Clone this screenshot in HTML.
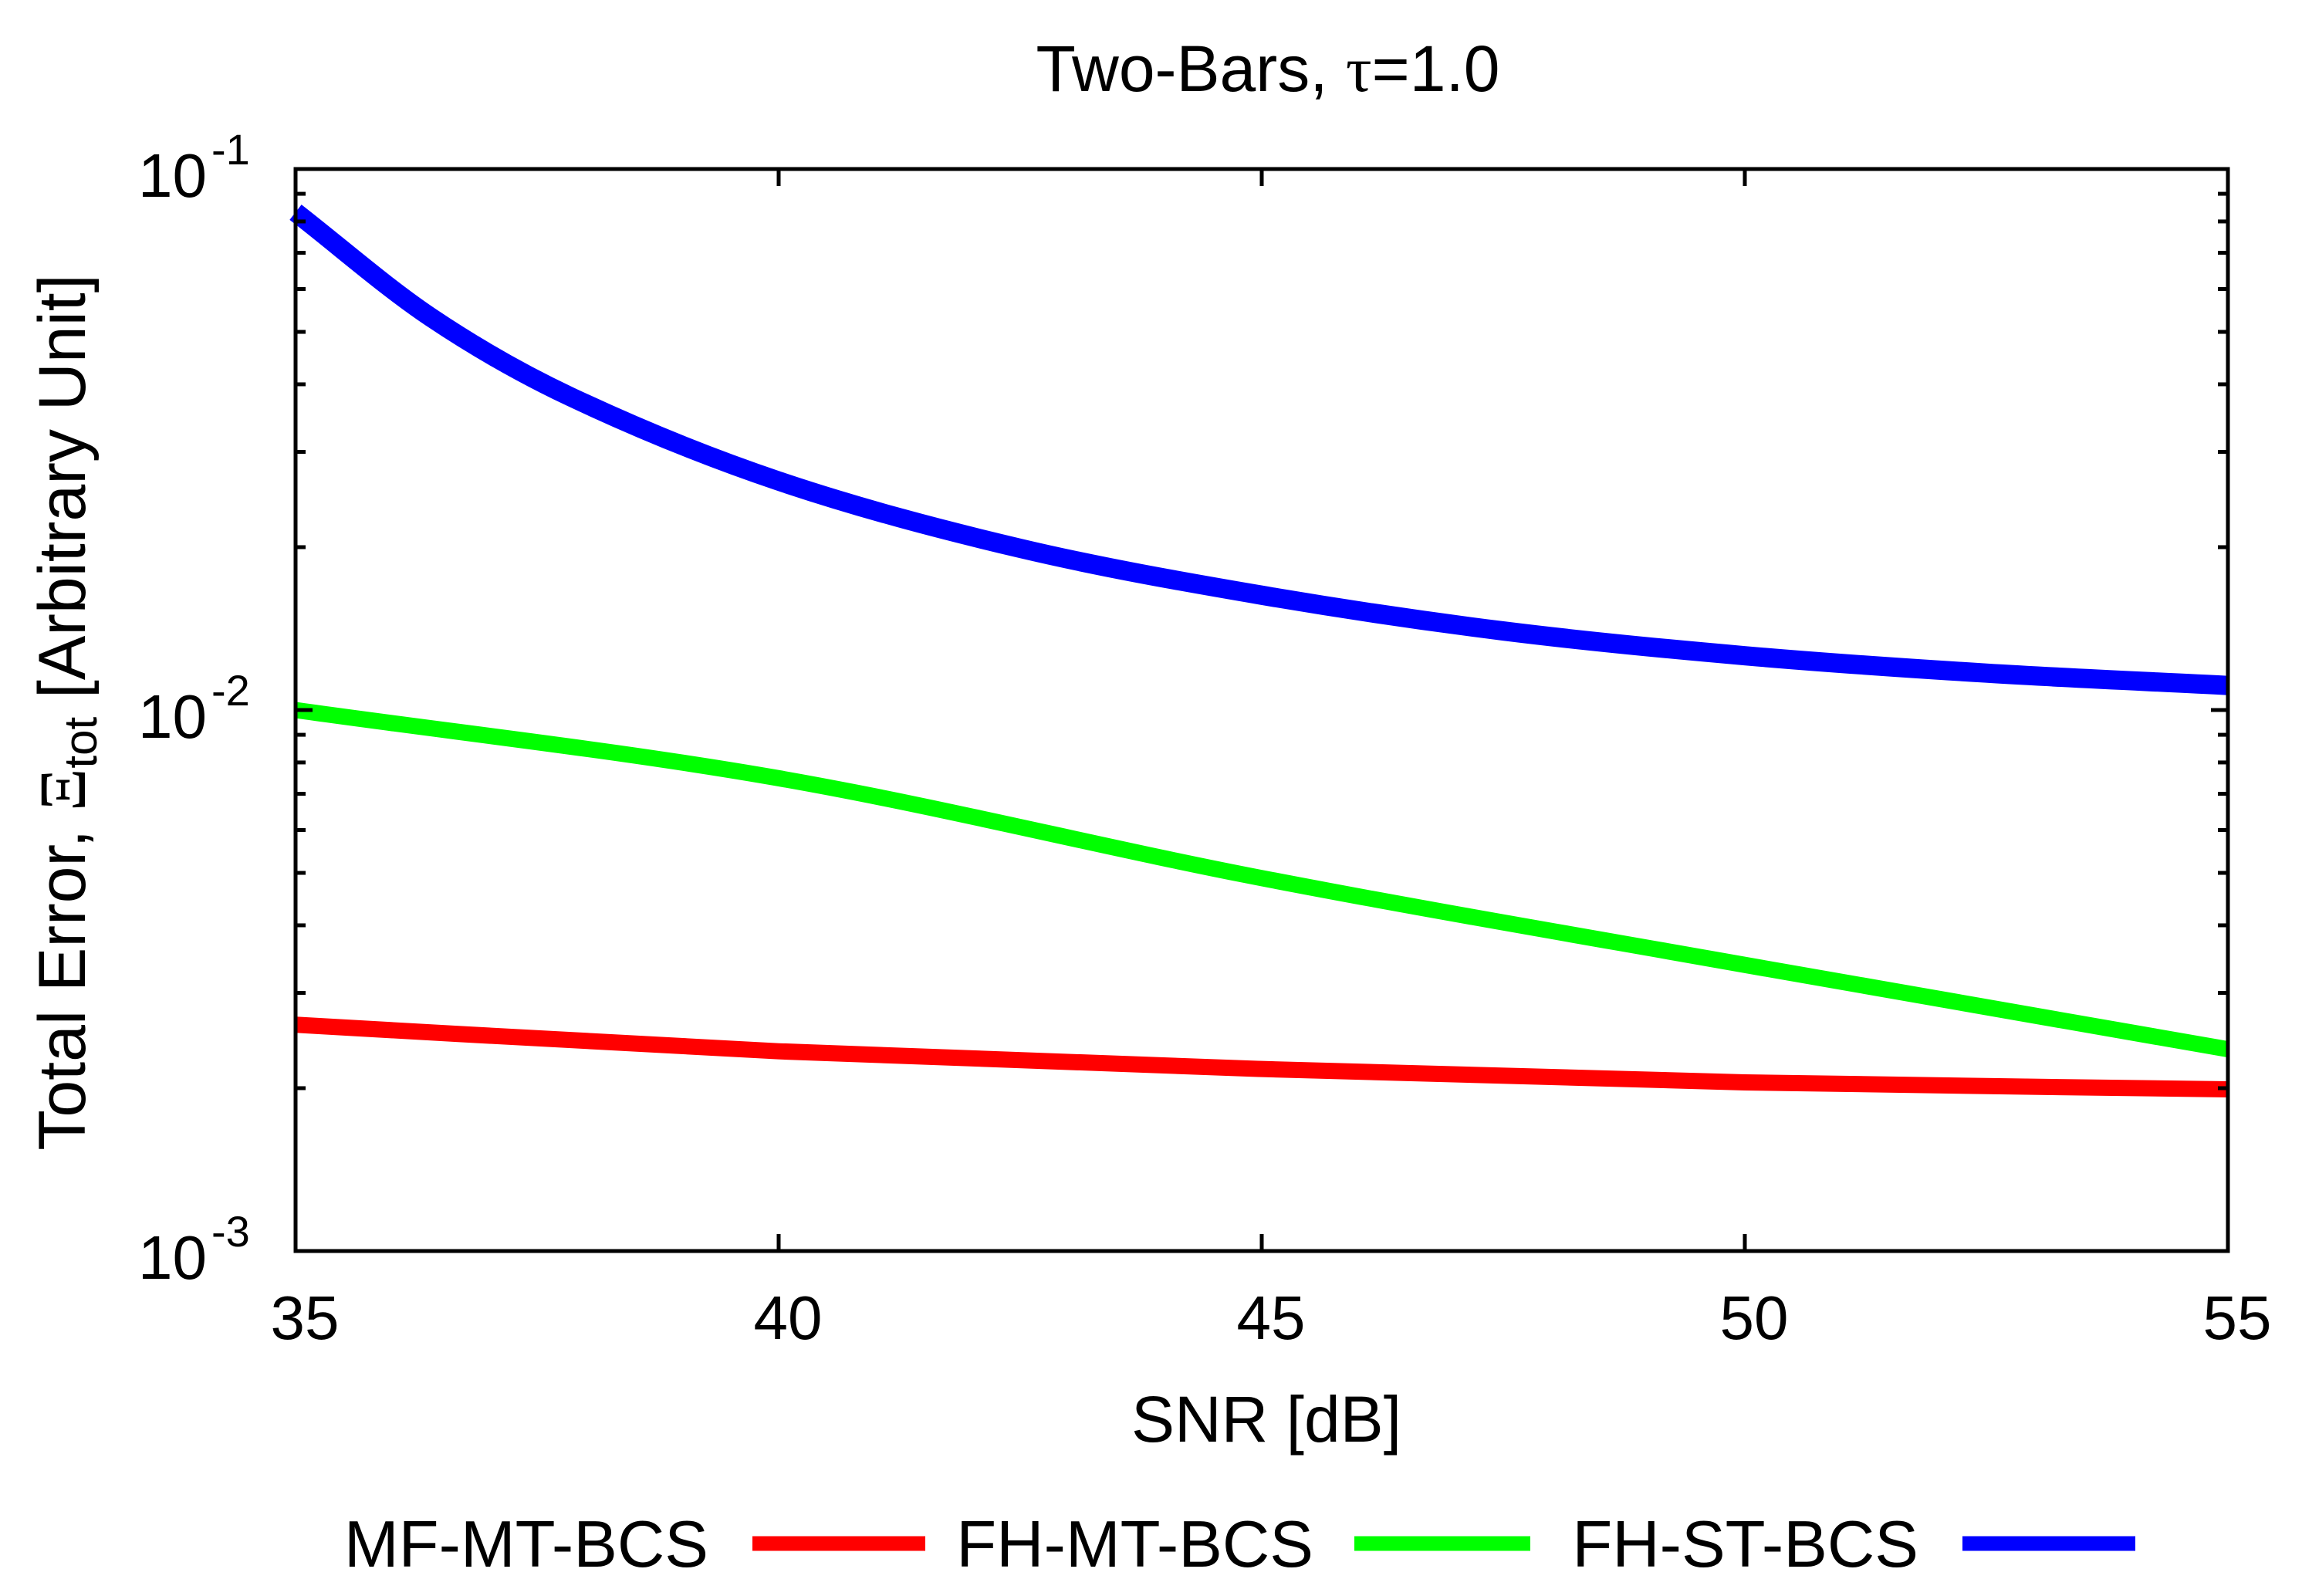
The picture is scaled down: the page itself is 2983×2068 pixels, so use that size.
<!DOCTYPE html>
<html><head><meta charset="utf-8"><style>
html,body{margin:0;padding:0;background:#fff;}
svg{display:block;font-family:"Liberation Sans",sans-serif;}
</style></head><body>
<svg id="chart" width="2983" height="2068" viewBox="0 0 2983 2068">
<text x="1643" y="118" font-size="84" text-anchor="middle">Two-Bars, <tspan font-family="Liberation Serif">τ</tspan>=1.0</text>
<g id="series"></g>
<rect x="383" y="219" width="2504" height="1402" fill="none" stroke="#000" stroke-width="5"/>
<g id="ticks"></g>
<text x="1641" y="1868" font-size="84" text-anchor="middle">SNR [dB]</text>
<text transform="translate(110,923) rotate(-90)" font-size="86" text-anchor="middle">Total Error, <tspan font-family="Liberation Serif">Ξ</tspan><tspan font-size="60" dy="15">tot</tspan><tspan dy="-15"> [Arbitrary Unit]</tspan></text>
<g id="legend"></g>
</svg>
<script>
const fhstX=[35,36.4,37.85,40,42.5,45,47.5,50,52.5,55];
const fhstValues=[0.0832,0.0532,0.0379,0.0265,0.0199,0.0163,0.014,0.0126,0.0117,0.0111];
const fhmtX=[35,40,45,50,55];
const fhmtValues=[0.0100,0.00748,0.00489,0.00338,0.00236];
const mfmtX=[35,40,45,50,55];
const mfmtValues=[0.00262,0.00234,0.00217,0.00205,0.00199];
const xTicks=[35,40,45,50,55];
const yDecades=[-3,-2,-1];
const seriesNames=["MF-MT-BCS","FH-MT-BCS","FH-ST-BCS"];
const NS="http://www.w3.org/2000/svg";
const L=383,R=2887,T=219,B=1621;
const xs=v=>L+(v-35)/(55-35)*(R-L);
const ys=v=>B-(Math.log10(v)+3)/2*(B-T);
function mk(tag,attrs,parent){const e=document.createElementNS(NS,tag);for(const k in attrs)e.setAttribute(k,attrs[k]);parent.appendChild(e);return e;}
const ticks=document.getElementById('ticks');
xTicks.forEach(t=>{
  const x=xs(t);
  let a=mk('line',{x1:x,x2:x,y1:B,y2:B-22,stroke:'#000','stroke-width':5},ticks);
  
  
  let b=mk('line',{x1:x,x2:x,y1:T,y2:T+22,stroke:'#000','stroke-width':5},ticks);
  
  
  let lb=mk('text',{x:x+12,y:1735,'font-size':80,'text-anchor':'middle'},ticks);
  lb.textContent=t;
  
  
});
yDecades.forEach((d,i)=>{
  const y=ys(Math.pow(10,d));
  let lb=mk('text',{x:268,y:y+36,'font-size':80,'text-anchor':'end'},ticks);
  lb.textContent='10';
  
  
  let sp=mk('text',{x:274,y:y-6,'font-size':56},ticks);
  sp.textContent='-'+(-d);
  
  
  const mx=i<yDecades.length-1?9:1;
  for(let m=1;m<=mx;m++){
    const yy=ys(m*Math.pow(10,d));
    const len=m===1?22:13;
    let t1=mk('line',{x1:L,x2:L+len,y1:yy,y2:yy,stroke:'#000','stroke-width':5},ticks);
    
    
    let t2=mk('line',{x1:R,x2:R-len,y1:yy,y2:yy,stroke:'#000','stroke-width':5},ticks);
    
    
  }
});
const series=document.getElementById('series');
const defs=[[mfmtX,mfmtValues,'#ff0000',21,'mfmt-line'],[fhmtX,fhmtValues,'#00ff00',21,'fhmt-line'],[fhstX,fhstValues,'#0000ff',25,'fhst-line']];
function smoothPath(xv,vals){
  const p=xv.map((x,i)=>[xs(x),ys(vals[i])]);
  const n=p.length;
  const m=p.map((q,i)=>{
    const a=p[Math.max(0,i-1)],b=p[Math.min(n-1,i+1)];
    return (b[1]-a[1])/(b[0]-a[0]);
  });
  let d='M'+p[0][0]+','+p[0][1];
  for(let i=0;i<n-1;i++){
    const h=(p[i+1][0]-p[i][0])/3;
    d+=' C'+(p[i][0]+h)+','+(p[i][1]+m[i]*h)+' '+(p[i+1][0]-h)+','+(p[i+1][1]-m[i+1]*h)+' '+p[i+1][0]+','+p[i+1][1];
  }
  return d;
}
defs.forEach(([xv,vals,c,w,n])=>{
  let p=mk('path',{d:smoothPath(xv,vals),fill:'none',stroke:c,'stroke-width':w},series);
  
  
});
const legend=document.getElementById('legend');
const lx=[[918,975,1199],[1702,1755,1983],[2486,2543,2767]];
seriesNames.forEach((s,i)=>{
  let t=mk('text',{x:lx[i][0],y:2030,'font-size':85,'text-anchor':'end'},legend);
  t.textContent=s;
  
  
  let l=mk('line',{x1:lx[i][1],x2:lx[i][2],y1:2000,y2:2000,stroke:defs[i][2],'stroke-width':19},legend);
  
  
});
</script>
</body></html>
